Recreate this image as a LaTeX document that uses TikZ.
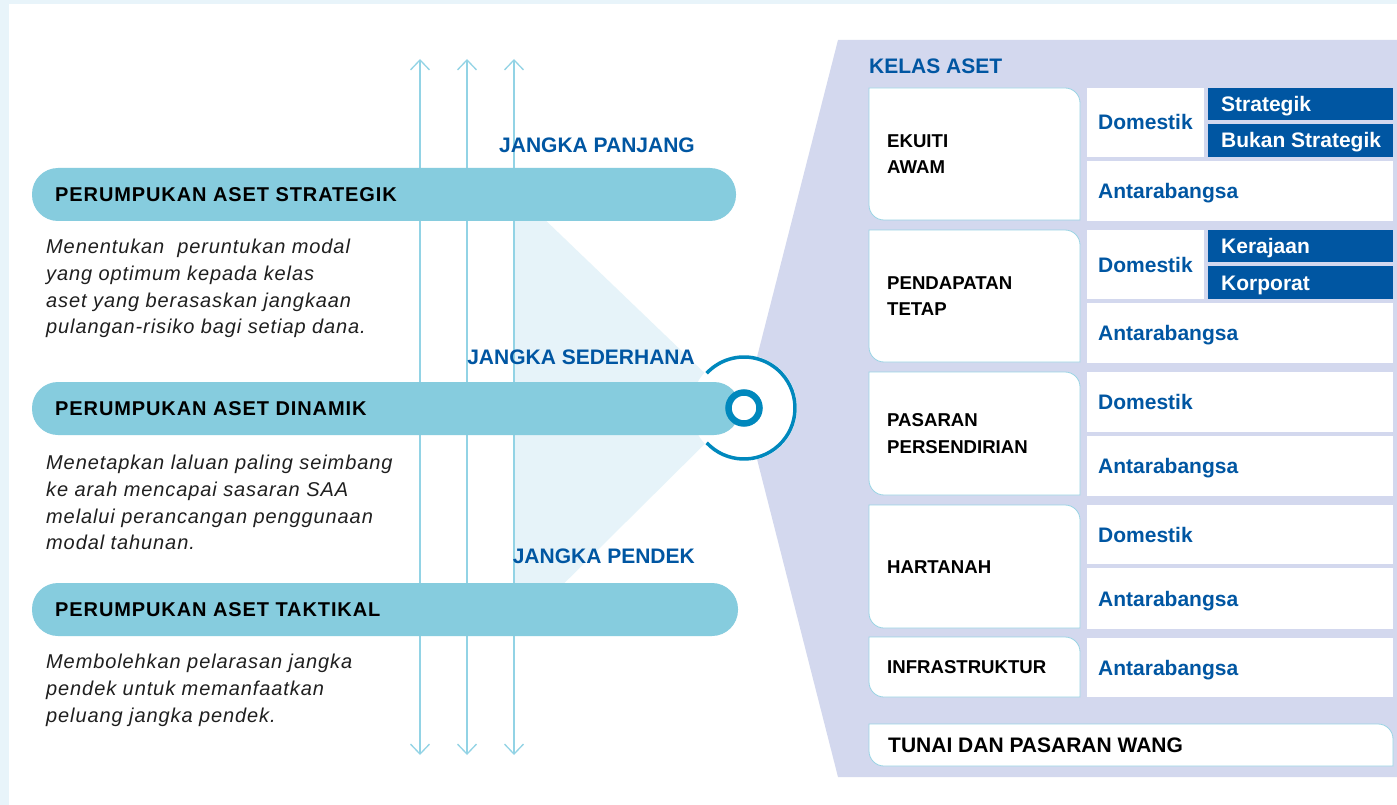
\documentclass[tikz,border=0pt]{standalone}
\usepackage{fontspec}
\setmainfont{Liberation Sans}
\newfontfamily\trk[LetterSpace=4.5]{Liberation Sans}
\usetikzlibrary{arrows.meta}
\definecolor{framec}{HTML}{E8F4FA}
\definecolor{tealbar}{HTML}{86CCDE}
\definecolor{arrowc}{HTML}{92D3E5}
\definecolor{darkblue}{HTML}{0056A2}
\definecolor{ringc}{HTML}{0088BD}
\definecolor{lav}{HTML}{D3D8EE}
\definecolor{boxline}{HTML}{9AD4E4}
\definecolor{tric}{HTML}{E6F3F9}

\newcommand\catbox[5]{%
  \path[catst] (#2,#3) -- ({#4-15},#3) arc[start angle=-90,end angle=0,radius=15] -- (#4,#5) -- ({#2+15},#5) arc[start angle=90,end angle=180,radius=15] -- cycle;
  \coordinate (#1) at (#2,{(#3+#5)/2});}
\newcommand\wcell[6]{%
  \node[wcellst, minimum width=#4pt, minimum height=#5pt] (#1) at (#2,#3) {};
  \node[bluetxt] (#1t) at ([xshift=11pt,yshift=-7.5pt]#1.west) {#6};}
\newcommand\bcell[6]{%
  \node[bcellst, minimum width=#4pt, minimum height=#5pt] (#1) at (#2,#3) {};
  \node[whitetxt] (#1t) at ([xshift=13pt,yshift=-7.5pt]#1.west) {#6};}

\begin{document}
\begin{tikzpicture}[x=1pt,y=-1pt,
  bar/.style={fill=tealbar, rounded corners=26pt, minimum height=53pt, anchor=north west, inner sep=0pt, outer sep=0pt},
  barlabel/.style={font=\trk\bfseries\fontsize{20}{22}\selectfont, text=black, anchor=base west, inner sep=0pt},
  desc/.style={font=\trk\itshape\fontsize{20}{26.7}\selectfont, text=black!88, align=left, anchor=north west, inner sep=0pt},
  jangka/.style={font=\bfseries\fontsize{21}{25}\selectfont, text=darkblue, anchor=base east, inner sep=0pt},
  arr/.style={draw=arrowc, line width=1.3pt, {Straight Barb[length=10pt,width=19pt,line width=1.3pt]}-{Straight Barb[length=10pt,width=19pt,line width=1.3pt]}},
  catst/.style={fill=white, draw=boxline, line width=0.8pt},
  cattext/.style={font=\bfseries\fontsize{18.6}{26.5}\selectfont, text=black, align=left, anchor=west, inner sep=0pt},
  cattext1/.style={font=\bfseries\fontsize{18.6}{26.5}\selectfont, text=black, anchor=base west, inner sep=0pt},
  wcellst/.style={fill=white, anchor=north west, inner sep=0pt, outer sep=0pt},
  bcellst/.style={fill=darkblue, anchor=north west, inner sep=0pt, outer sep=0pt},
  bluetxt/.style={font=\bfseries\fontsize{21}{25}\selectfont, text=darkblue, anchor=base west, inner sep=0pt},
  whitetxt/.style={font=\bfseries\fontsize{21}{25}\selectfont, text=white, anchor=base west, inner sep=0pt},
  smallring/.style={circle, draw=ringc, line width=6.5pt, fill=white, minimum size=31pt, inner sep=0pt}
]
\useasboundingbox (0,0) rectangle (1397,805);
\fill[framec] (0,0) rectangle (1397,805);
\fill[white] (9,4) rectangle (1397,805);

\coordinate (cen) at (744,408);
\coordinate (apex) at (741,408);
% light triangle
\fill[tric] (514,190) -- (apex) -- (514,633) -- cycle;

% vertical double arrows
\coordinate (at1) at (420,59); \coordinate (ab1) at (420,755);
\coordinate (at2) at (467,59); \coordinate (ab2) at (467,755);
\coordinate (at3) at (514,59); \coordinate (ab3) at (514,755);
\draw[arr] (at1) -- (ab1);
\draw[arr] (at2) -- (ab2);
\draw[arr] (at3) -- (ab3);

% lavender panel
\fill[lav] (838,40) -- (1397,40) -- (1397,777) -- (838,777) -- (cen) -- cycle;
\fill[white] (cen) circle[radius=53];

% bars
\node[bar, minimum width=704pt] (b1) at (32,168) {};
\node[bar, minimum width=708pt] (b2) at (32,382) {};
\node[bar, minimum width=706pt] (b3) at (32,583) {};
\node[barlabel] (l1) at ([xshift=23pt,yshift=-7pt]b1.west) {PERUMPUKAN ASET STRATEGIK};
\node[barlabel] (l2) at ([xshift=23pt,yshift=-7pt]b2.west) {PERUMPUKAN ASET DINAMIK};
\node[barlabel] (l3) at ([xshift=23pt,yshift=-7pt]b3.west) {PERUMPUKAN ASET TAKTIKAL};

% rings
\draw[ringc, line width=3.5pt] ([shift={(137:51)}]cen) arc[start angle=137,end angle=-137,radius=51];
\node[smallring] (sr) at (cen) {};

% descriptions
\node[desc] (d1) at (46,239) {Menentukan\ \ peruntukan modal\\yang optimum kepada kelas\\aset yang berasaskan jangkaan\\pulangan-risiko bagi setiap dana.};
\node[desc] (d2) at (46,455) {Menetapkan laluan paling seimbang\\ke arah mencapai sasaran SAA\\melalui perancangan penggunaan\\modal tahunan.};
\node[desc] (d3) at (46,654) {Membolehkan pelarasan jangka\\pendek untuk memanfaatkan\\peluang jangka pendek.};

% horizon labels
\node[jangka] (j1) at (695,152.5) {JANGKA PANJANG};
\node[jangka] (j2) at (695,364.5) {JANGKA SEDERHANA};
\node[jangka] (j3) at (695,563.5) {JANGKA PENDEK};

% right panel
\node[bluetxt] (kelas) at (869,73.5) {KELAS ASET};

\catbox{k1}{869}{88}{1080}{220}
\catbox{k2}{869}{230}{1080}{362}
\catbox{k3}{869}{372}{1080}{495}
\catbox{k4}{869}{505}{1080}{628}
\catbox{k5}{869}{637}{1080}{697}
\catbox{k6}{869}{724}{1393}{766}
\node[cattext] (k1t) at ([xshift=18pt]k1) {EKUITI\\AWAM};
\node[cattext] (k2t) at ([xshift=18pt]k2) {PENDAPATAN\\TETAP};
\node[cattext] (k3t) at ([xshift=18pt]k3) {PASARAN\\PERSENDIRIAN};
\node[cattext1] (k4t) at ([xshift=18pt,yshift=-6.6pt]k4) {HARTANAH};
\node[cattext1] (k5t) at ([xshift=18pt,yshift=-6.6pt]k5) {INFRASTRUKTUR};
\node[bluetxt, text=black] (k6t) at ([xshift=19pt,yshift=-7.5pt]k6) {TUNAI DAN PASARAN WANG};

% sub cells
\wcell{e1}{1087}{88}{117}{69}{Domestik}
\bcell{e2}{1208}{88}{185}{32}{Strategik}
\bcell{e3}{1208}{124}{185}{33}{Bukan Strategik}
\wcell{e4}{1087}{161}{306}{60}{Antarabangsa}

\wcell{p1}{1087}{230}{117}{69}{Domestik}
\bcell{p2}{1208}{230}{185}{32}{Kerajaan}
\bcell{p3}{1208}{266}{185}{33}{Korporat}
\wcell{p4}{1087}{303}{306}{60}{Antarabangsa}

\wcell{s1}{1087}{372}{306}{60}{Domestik}
\wcell{s2}{1087}{436}{306}{60}{Antarabangsa}

\wcell{h1}{1087}{505}{306}{59}{Domestik}
\wcell{h2}{1087}{568}{306}{61}{Antarabangsa}

\wcell{i1}{1087}{638}{306}{59}{Antarabangsa}
\end{tikzpicture}
\end{document}
